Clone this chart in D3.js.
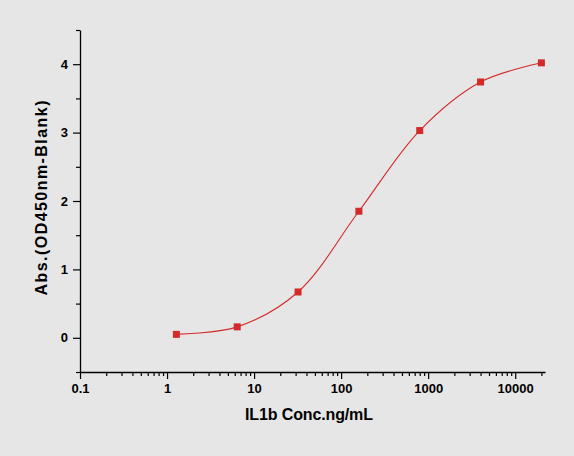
<!DOCTYPE html>
<html>
<head>
<meta charset="utf-8">
<script src="https://cdn.jsdelivr.net/npm/d3@7"></script>
<style>
  html, body { margin: 0; padding: 0; background: #e6e6e6; }
  svg { display: block; }
  .tick text { font-family: "Liberation Sans", Arial, sans-serif; font-weight: bold; font-size: 13px; }
</style>
</head>
<body>
<svg id="chart" width="574" height="456"></svg>
<script>
// concentrations (ng/mL) and absorbance readings
var conc = [1.28, 6.4, 32, 160, 800, 4000, 20000];
var abs = [0.05, 0.16, 0.67, 1.85, 3.03, 3.74, 4.02];
var xTickVals = [0.1, 1, 10, 100, 1000, 10000];
var xTickLabels = ["0.1", "1", "10", "100", "1000", "10000"];
var yTickVals = [0, 1, 2, 3, 4];

var svg = d3.select("#chart");
var margin = {left: 80, right: 545, top: 30, bottom: 372};

var x = d3.scaleLog().domain([0.1, 22000]).range([margin.left, margin.right]);
var y = d3.scaleLinear().domain([-0.5, 4.5]).range([margin.bottom, margin.top]);

// minor ticks for log axis
var xMinor = [];
for (var e = -1; e <= 4; e++) {
    for (var m = 2; m <= 9; m++) {
        var v = m * Math.pow(10, e);
        if (v <= 22000) xMinor.push(v);
    }
}
var yMinor = [-0.5, 0.5, 1.5, 2.5, 3.5, 4.5];

var g = svg.append("g");

g.append("g")
    .attr("transform", "translate(0," + margin.bottom + ")")
    .call(d3.axisBottom(x).tickValues(xMinor).tickSize(4).tickFormat(""))
    .call(function(s) { s.select(".domain").remove(); });

var xAxis = g.append("g")
    .attr("transform", "translate(0," + margin.bottom + ")")
    .call(d3.axisBottom(x).tickValues(xTickVals).tickSize(7).tickSizeOuter(0)
        .tickFormat(function(d, i) { return xTickLabels[i]; }));
xAxis.selectAll(".tick text").attr("y", 12).attr("dy", "0.71em");

g.append("g")
    .attr("transform", "translate(" + margin.left + ",0)")
    .call(d3.axisLeft(y).tickValues(yMinor).tickSize(4).tickFormat(""))
    .call(function(s) { s.select(".domain").remove(); });

var yAxis = g.append("g")
    .attr("transform", "translate(" + margin.left + ",0)")
    .call(d3.axisLeft(y).tickValues(yTickVals).tickSize(7).tickSizeOuter(0).tickFormat(d3.format("d")));
yAxis.selectAll(".tick text").attr("x", -12);

svg.selectAll(".domain").attr("stroke", "#000").attr("stroke-width", 1.3);
svg.selectAll(".tick line").attr("stroke", "#000").attr("stroke-width", 1.2);

// fitted curve through the points
var line = d3.line()
    .x(function(d, i) { return x(conc[i]); })
    .y(function(d) { return y(d); })
    .curve(d3.curveCatmullRom.alpha(0.5));

svg.append("path")
    .datum(abs)
    .attr("d", line)
    .attr("fill", "none")
    .attr("stroke", "#d42a2a")
    .attr("stroke-width", 1.1);

svg.selectAll("rect.pt")
    .data(abs)
    .enter()
    .append("rect")
    .attr("class", "pt")
    .attr("x", function(d, i) { return x(conc[i]) - 3.5; })
    .attr("y", function(d) { return y(d) - 3.5; })
    .attr("width", 7)
    .attr("height", 7)
    .attr("fill", "#d42a2a");

svg.append("text")
    .attr("x", 309)
    .attr("y", 420)
    .attr("text-anchor", "middle")
    .attr("textLength", 128)
    .style("font-family", "'Liberation Sans', Arial, sans-serif")
    .style("font-weight", "bold")
    .style("font-size", "16px")
    .text("IL1b Conc.ng/mL");

svg.append("text")
    .attr("transform", "translate(47,198) rotate(-90)")
    .attr("text-anchor", "middle")
    .attr("textLength", 195)
    .style("font-family", "'Liberation Sans', Arial, sans-serif")
    .style("font-weight", "bold")
    .style("font-size", "16px")
    .text("Abs.(OD450nm-Blank)");
</script>
</body>
</html>
